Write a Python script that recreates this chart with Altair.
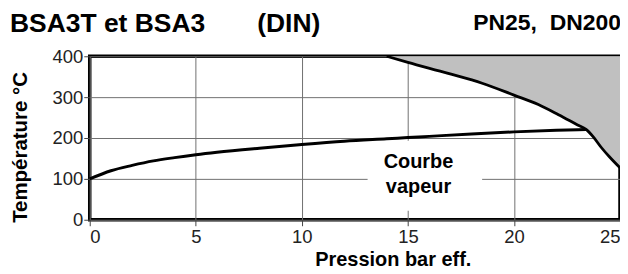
import altair as alt
import pandas as pd

# Saturated steam curve (Courbe vapeur)
steam_p = [0, 1, 2, 3, 4, 5, 6, 8, 10, 12, 14, 15, 16, 18, 20, 22, 23.4]
steam_t = [100, 120, 133, 144, 152, 159, 165, 175, 184, 192, 198, 201, 204, 210, 215, 219, 221]

# Operating limit curve (shaded zone above it)
limit_p = [14.0, 15, 16.9, 18.5, 20, 21.15, 22.1, 23.0, 23.4, 23.75, 24.1, 24.5, 25]
limit_t = [400, 385, 358, 334, 305, 282, 257, 232, 221, 202, 178, 154, 127]

x_ticks = [0, 5, 10, 15, 20, 25]
y_ticks = [0, 100, 200, 300, 400]

label_lines = ["Courbe", "vapeur"]
label_p = [15.5, 15.5]
label_t = [141, 80]
label_box_p = [13.1, 18.5]
label_box_t = [22, 193]

FONT = "Liberation Sans"

steam_df = pd.DataFrame({"p": steam_p, "t": steam_t})
limit_df = pd.DataFrame({"p": limit_p, "t": limit_t, "top": [400] * len(limit_p)})
label_df = pd.DataFrame({"p": label_p, "t": label_t, "txt": label_lines})
box_df = pd.DataFrame({"p": [label_box_p[0]], "p2": [label_box_p[1]],
                       "t": [label_box_t[0]], "t2": [label_box_t[1]]})

xscale = alt.Scale(domain=[0, 25], nice=False)
yscale = alt.Scale(domain=[0, 400], nice=False)

xaxis = alt.Axis(values=x_ticks, title="Pression bar eff.", grid=True, domain=False,
                 tickSize=6, labelPadding=2, titlePadding=3, titleX=304, titleFontSize=20)
yaxis = alt.Axis(values=y_ticks, title="Température °C", grid=True, domain=False,
                 tickSize=6, labelPadding=1, titlePadding=22, titleY=91)

area = alt.Chart(limit_df).mark_area(color="#c0c0c0", opacity=1, interpolate="monotone").encode(
    x=alt.X("p:Q", scale=xscale, axis=xaxis),
    y=alt.Y("t:Q", scale=yscale, axis=yaxis),
    y2="top:Q",
)

box = alt.Chart(box_df).mark_rect(color="white").encode(
    x="p:Q", x2="p2:Q", y="t:Q", y2="t2:Q"
)

steam = alt.Chart(steam_df).mark_line(color="black", strokeWidth=3, interpolate="monotone").encode(
    x="p:Q", y="t:Q"
)

limit = alt.Chart(limit_df).mark_line(color="black", strokeWidth=2.8, interpolate="monotone").encode(
    x="p:Q", y="t:Q"
)

labels = alt.Chart(label_df).mark_text(font=FONT, fontSize=20, fontWeight="bold",
                                       color="black").encode(
    x="p:Q", y="t:Q", text="txt:N"
)

one = pd.DataFrame({"a": [0]})
title_left = alt.Chart(one).mark_text(font=FONT, fontSize=26.5, fontWeight="bold", align="left",
                                      baseline="alphabetic", color="black").encode(
    x=alt.value(-80), y=alt.value(-24), text=alt.value("BSA3T et BSA3")
)
title_din = alt.Chart(one).mark_text(font=FONT, fontSize=26.5, fontWeight="bold", align="left",
                                     baseline="alphabetic", color="black").encode(
    x=alt.value(168), y=alt.value(-24), text=alt.value("(DIN)")
)
title_right = alt.Chart(one).mark_text(font=FONT, fontSize=23, fontWeight="bold", align="right",
                                       baseline="alphabetic", color="black").encode(
    x=alt.value(533), y=alt.value(-26), text=alt.value("PN25,\u00a0\u00a0DN200")
)

chart = alt.layer(area, box, steam, limit, labels, title_left, title_din, title_right).properties(
    width=532, height=164,
    autosize=alt.AutoSizeParams(type="none"),
    padding={"left": 82, "top": 48, "right": 0, "bottom": 54},
).configure_view(
    stroke="black", strokeWidth=3.5
).configure_axis(
    labelFont=FONT, labelFontSize=18.5, labelColor="#222222",
    titleFont=FONT, titleFontSize=20.5, titleFontWeight="bold", titleColor="black",
    gridColor="#707070", gridWidth=1, gridOpacity=1,
    tickColor="#444444", tickWidth=1,
)

chart.save("out.html", embed_options={"renderer": "svg", "actions": False})
